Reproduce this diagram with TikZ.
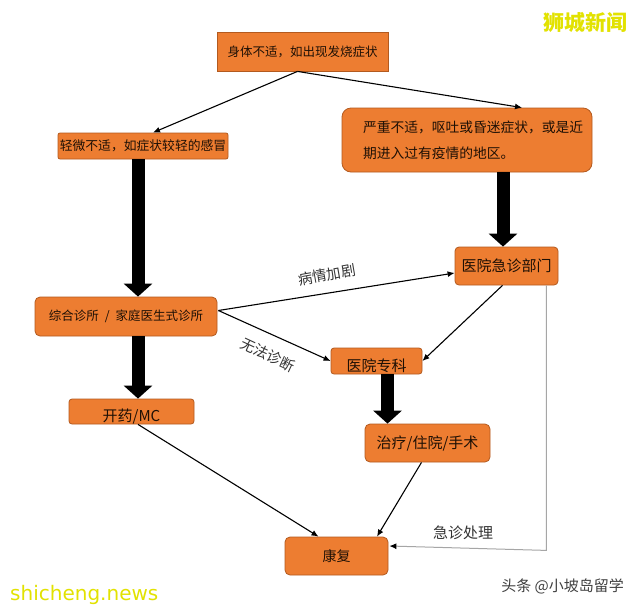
\documentclass[tikz,border=0pt]{standalone}
\usepackage{fontspec}
\setmainfont{Noto Sans CJK SC}
\newfontfamily\latinsans{DejaVu Sans}
\usetikzlibrary{arrows.meta,calc}
\definecolor{boxfill}{HTML}{ED7D31}
\definecolor{boxline}{HTML}{B35A1F}
\definecolor{boxtext}{HTML}{1E1005}
\definecolor{wmyellow}{HTML}{E2E200}
\newcommand{\lowtext}[2]{\raisebox{-#1}[\height][\depth]{#2}}
\tikzset{
  box/.style={draw=boxline, line width=0.8pt, fill=boxfill, text=boxtext,
    inner sep=0pt, align=center},
  thin arrow/.style={draw=black, line width=1.1pt, -{Latex[length=7pt,width=6pt]}},
  gray arrow/.style={draw=gray!70, line width=1pt, -{Latex[length=7pt,width=6pt,color=black]}},
  big arrow/.style={draw=black, line width=13pt, -{Triangle[length=13pt,width=28pt]}},
  lab/.style={text=black!80, inner sep=0pt}
}
\begin{document}
\begin{tikzpicture}[x=1pt,y=-1pt]
\useasboundingbox[fill=white] (0,0) rectangle (640,611);

% boxes
\node[box, minimum width=171pt, minimum height=39pt, font=\fontsize{12.5}{14}\selectfont]
  (top) at (302.5,51.5) {身体不适，如出现发烧症状};
\node[box, rounded corners=2pt, minimum width=170pt, minimum height=26pt, font=\fontsize{12.8}{14}\selectfont]
  (mild) at (143,146) {轻微不适，如症状较轻的感冒};
\node[box, rounded corners=9pt, minimum width=250pt, minimum height=64pt, align=left,
  font=\fontsize{13.75}{26}\selectfont]
  (severe) at (467,140) {\hspace*{12pt}严重不适，呕吐或昏迷症状，或是近\\\hspace*{12pt}期进入过有疫情的地区。};
\node[box, rounded corners=4pt, minimum width=103pt, minimum height=38pt, font=\fontsize{15}{17}\selectfont]
  (er) at (506.5,266) {医院急诊部门};
\node[box, rounded corners=5pt, minimum width=182pt, minimum height=39pt, font=\fontsize{12.5}{14}\selectfont]
  (clinic) at (126,316.5) {综合诊所\hspace{6pt}/\hspace{6pt}家庭医生式诊所};
\node[box, rounded corners=3pt, minimum width=91pt, minimum height=26pt, font=\fontsize{15}{17}\selectfont]
  (spec) at (376.5,361) {\lowtext{5pt}{医院专科}};
\node[box, rounded corners=3pt, minimum width=125pt, minimum height=25pt, font=\fontsize{15}{17}\selectfont]
  (med) at (131.5,411.5) {\lowtext{5pt}{开药/MC}};
\node[box, rounded corners=5pt, minimum width=125pt, minimum height=38pt, font=\fontsize{15}{17}\selectfont]
  (treat) at (427.5,443) {治疗/住院/手术};
\node[box, rounded corners=5pt, minimum width=103pt, minimum height=38pt, font=\fontsize{14}{16}\selectfont]
  (recover) at (336.5,556) {康复};

% thick arrows
\coordinate (b1) at ($(mild.south)+(-5,0)$);
\draw[big arrow] (b1) -- (b1 |- clinic.north);
\coordinate (b2) at ($(clinic.south)+(12,0)$);
\draw[big arrow] (b2) -- (b2 |- med.north);
\coordinate (b3) at ($(severe.south)+(36,0)$);
\draw[big arrow] (b3) -- (b3 |- er.north);
\coordinate (b4) at ($(spec.south)+(11,0)$);
\draw[big arrow] (b4) -- (b4 |- treat.north);

% thin arrows
\draw[thin arrow] ($(top.south)+(-5,0)$) -- ($(mild.north)+(10,0)$);
\draw[thin arrow] ($(top.south)+(-5,0)$) -- ($(severe.north)+(55,0)$);
\draw[thin arrow] ($(clinic.east)+(1,-6)$) -- ($(er.west)+(0,7)$);
\draw[thin arrow] ($(clinic.east)+(1,-6)$) -- (spec.west);
\draw[thin arrow] ($(er.south)+(-4,0)$) -- (spec.east);
\draw[thin arrow] ($(med.south)+(6.5,0)$) -- ($(recover.north)+(-18,0)$);
\draw[thin arrow] ($(treat.south)+(-6,0)$) -- ($(recover.north)+(40.5,0)$);
\coordinate (g1) at ($(er.south east)+(-12,0)$);
\coordinate (g2) at ($(g1)+(0,265)$);
\draw[gray arrow] (g1) -- (g2) -- ($(recover.east)+(1,-10)$);

% labels
\node[lab, rotate=10, font=\fontsize{14.5}{16}\selectfont] (l1) at (327,275) {病情加剧};
\node[lab, rotate=-25, font=\fontsize{14.5}{16}\selectfont] (l2) at (268,355) {无法诊断};
\node[lab, font=\fontsize{15}{17}\selectfont] (l3) at (463,533) {急诊处理};

% watermarks
\node[inner sep=0pt, text=wmyellow, font=\fontsize{21}{23}\selectfont\bfseries] (w1) at (585,22) {狮城新闻};
\node[inner sep=0pt, anchor=west, text=wmyellow, font=\latinsans\fontsize{20}{22}\selectfont] (w2) at (10,595) {shicheng.news};
\node[inner sep=0pt, anchor=east, text=black!75, font=\fontsize{15}{17}\selectfont] (w3) at (624,586) {头条 @小坡岛留学};
\end{tikzpicture}
\end{document}
